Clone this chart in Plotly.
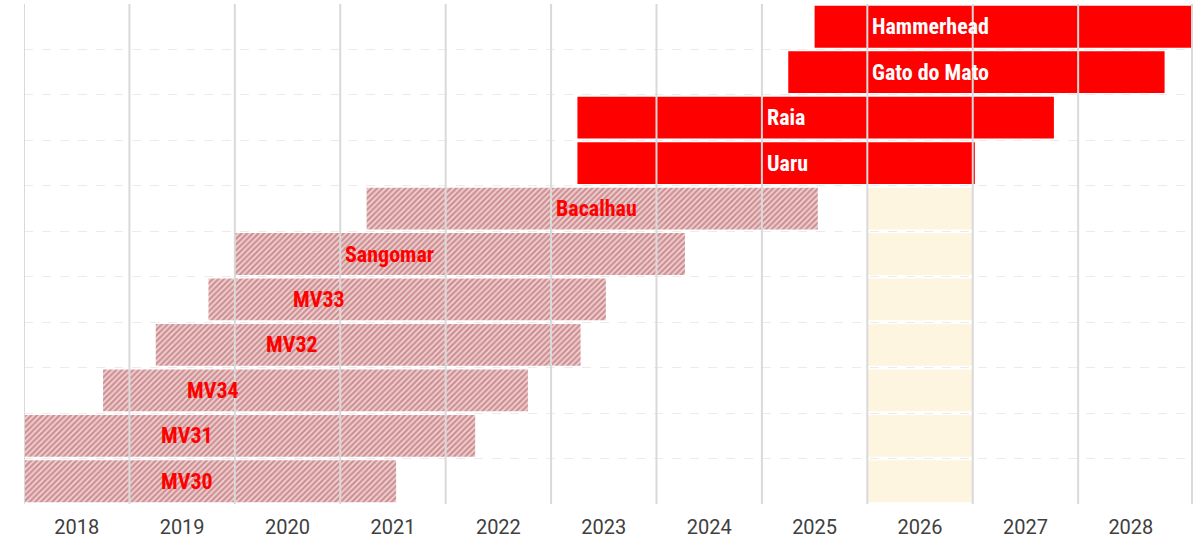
import plotly.graph_objects as go

# Projects listed top to bottom
projects = ["Hammerhead", "Gato do Mato", "Raia", "Uaru", "Bacalhau", "Sangomar",
            "MV33", "MV32", "MV34", "MV31", "MV30"]
# Start / end in fractional years
start = [2025.5, 2025.25, 2023.25, 2023.25, 2021.25, 2020.0,
         2019.75, 2019.25, 2018.75, 2018.0, 2018.0]
end = [2029.5, 2028.82, 2027.77, 2027.02, 2025.53, 2024.27,
       2023.52, 2023.28, 2022.78, 2022.28, 2021.53]
# "new" = solid red bars, "existing" = hatched bars
phase = ["new", "new", "new", "new", "existing", "existing",
         "existing", "existing", "existing", "existing", "existing"]
# Where each name label begins along the time axis
label_at = [2026.0, 2026.0, 2025.0, 2025.0, 2023.0, 2021.0,
            2020.5, 2020.25, 2019.5, 2019.25, 2019.25]

years = list(range(2018, 2029))
highlight_year = 2026
x_max = 2029.08

RED = "#ff0000"
GRID = "#d9d9d9"
LABEL_FONT = "Liberation Sans Narrow, Arial Narrow, Roboto Condensed, sans-serif"

fig = go.Figure()

# Highlighted year column, one bar per row so row gaps stay white
fig.add_trace(go.Bar(
    y=projects, x=[1] * len(projects), base=[highlight_year] * len(projects),
    orientation="h", width=0.92,
    marker=dict(color="#fef5e0", line=dict(width=0)),
    hoverinfo="skip",
))

def subset(kind):
    idx = [i for i, p in enumerate(phase) if p == kind]
    return ([projects[i] for i in idx],
            [start[i] for i in idx],
            [end[i] - start[i] for i in idx])

y_e, b_e, d_e = subset("existing")
fig.add_trace(go.Bar(
    y=y_e, x=d_e, base=b_e, orientation="h", width=0.92,
    marker=dict(color="#f3d6d7", line=dict(width=0),
                pattern=dict(shape="/", fgcolor="#a84c50", bgcolor="#f3d6d7",
                             size=4, solidity=0.6)),
))

y_n, b_n, d_n = subset("new")
fig.add_trace(go.Bar(
    y=y_n, x=d_n, base=b_n, orientation="h", width=0.92,
    marker=dict(color=RED, line=dict(width=0)),
))

# Name labels
for name, x0, kind in zip(projects, label_at, phase):
    fig.add_annotation(
        x=x0, y=name, text=f"<b>{name}</b>", showarrow=False,
        xanchor="left", yanchor="middle", xshift=3,
        font=dict(family=LABEL_FONT, size=22,
                  color="white" if kind == "new" else RED),
    )

# Year boundary lines drawn over the bars
for yr in years:
    fig.add_shape(type="line", x0=yr, x1=yr, y0=0, y1=1, xref="x", yref="paper",
                  line=dict(color=GRID, width=2), layer="above")
fig.add_shape(type="line", x0=1, x1=1, y0=0, y1=1, xref="paper", yref="paper",
              line=dict(color=GRID, width=2), layer="above")

fig.update_layout(
    width=1199, height=542,
    margin=dict(l=24, r=7, t=4, b=38),
    plot_bgcolor="white", paper_bgcolor="white",
    barmode="overlay", showlegend=False,
    xaxis=dict(
        range=[years[0], x_max],
        tickvals=[yr + 0.5 for yr in years],
        ticktext=[str(yr) for yr in years],
        showgrid=False, zeroline=False, showline=False, ticks="",
        automargin=False, ticklabelstandoff=9,
        tickfont=dict(family="Roboto, Arial, sans-serif", size=20, color="#404040"),
    ),
    yaxis=dict(
        type="category", categoryorder="array", categoryarray=projects[::-1],
        tickson="boundaries", showgrid=True, gridcolor="#ebebeb", griddash="dash",
        gridwidth=1, showticklabels=False, ticks="", zeroline=False, showline=False,
        automargin=False,
    ),
)

fig.write_html("out.html")
